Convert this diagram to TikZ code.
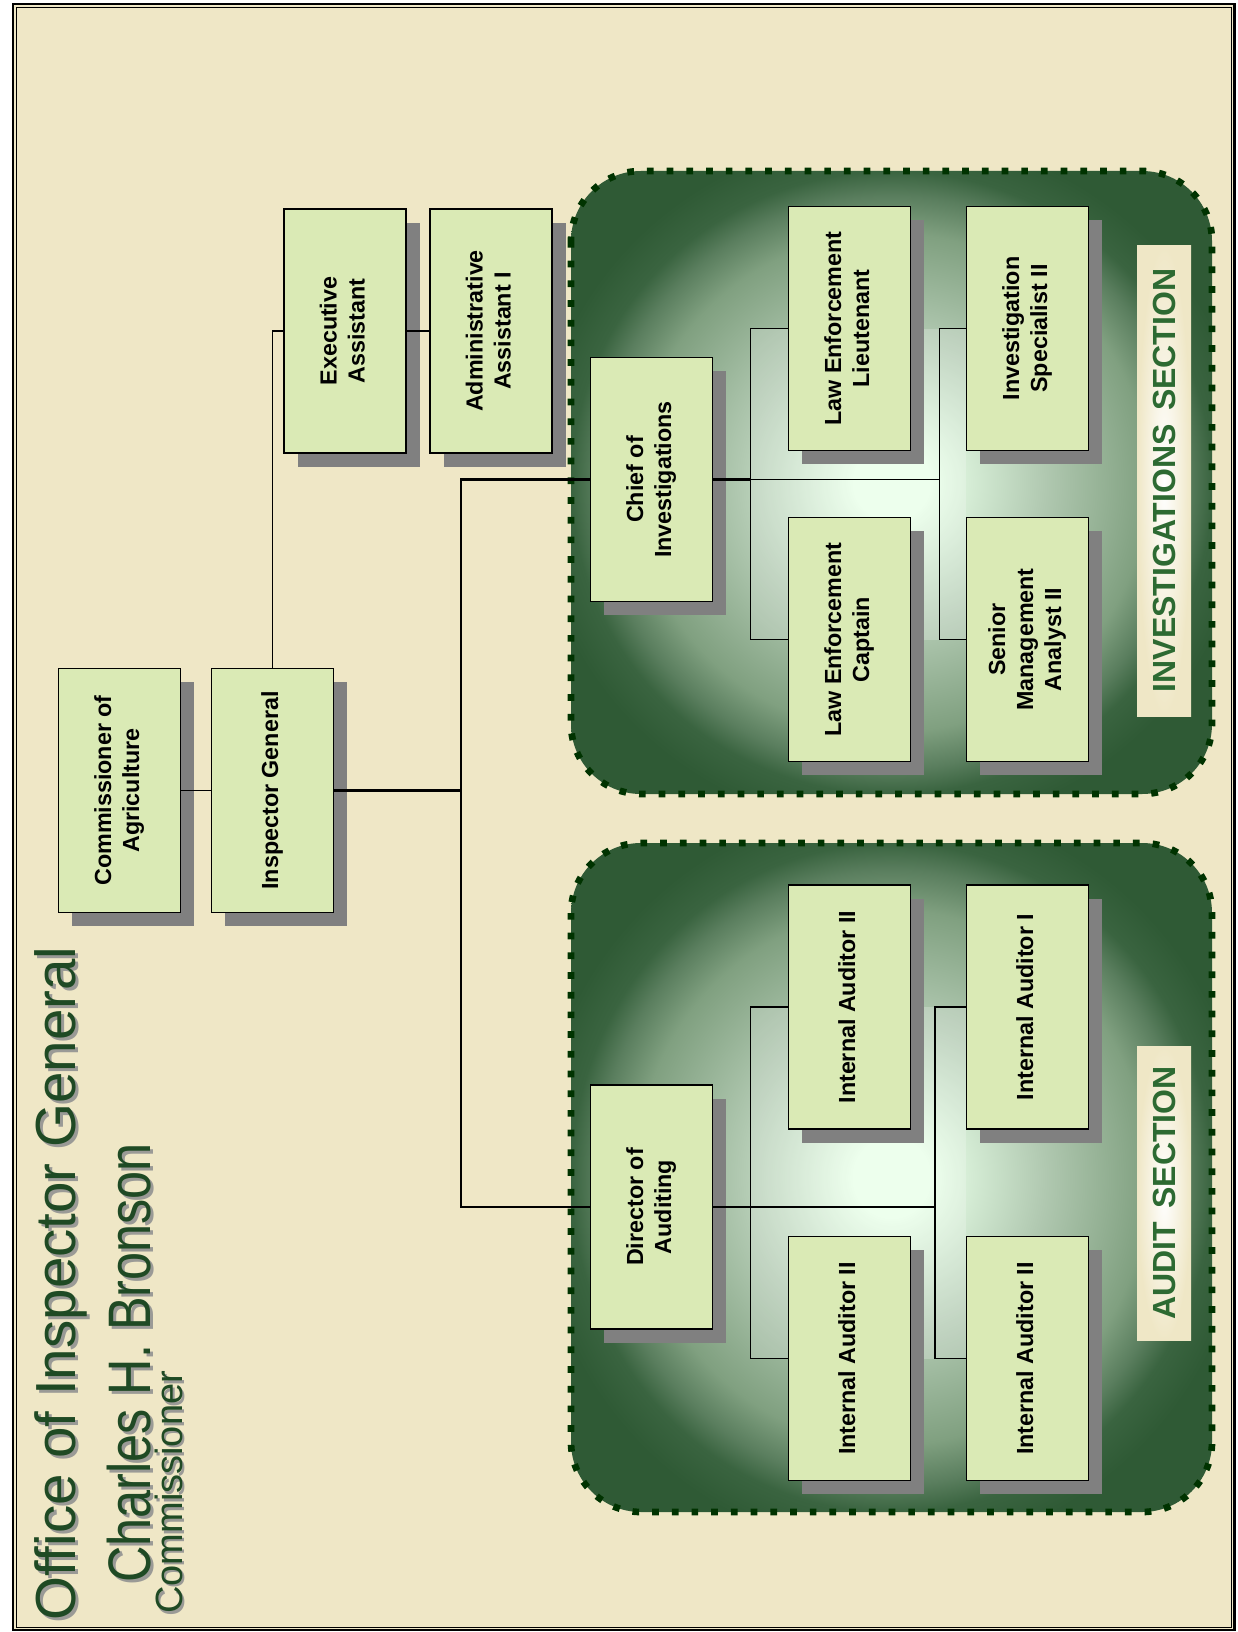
\documentclass[tikz,border=0pt]{standalone}
\usepackage{fontspec}
\setmainfont{Liberation Sans}
\usetikzlibrary{shadows,calc}
\definecolor{bgc}{HTML}{EFE7C6}
\definecolor{boxc}{HTML}{DAEAB5}
\definecolor{shc}{HTML}{808080}
\definecolor{dashc}{HTML}{003300}
\definecolor{edgec}{HTML}{2F5A35}
\definecolor{glowc}{HTML}{E8FFE8}
\definecolor{cA}{HTML}{B0C8B0}
\definecolor{cB}{HTML}{80A080}
\definecolor{cC}{HTML}{5A7E5E}
\definecolor{cD}{HTML}{3A6440}
\definecolor{labtc}{HTML}{2D6A32}
\definecolor{titlec}{HTML}{1F4A24}
\definecolor{tshc}{HTML}{9A9A96}
\pgfdeclareradialshading{secshade}{\pgfpoint{0bp}{0bp}}{color(0bp)=(glowc); color(3bp)=(glowc); color(12bp)=(cA); color(20bp)=(cB); color(23bp)=(cC); color(25bp)=(cD); color(28bp)=(edgec); color(50bp)=(edgec)}
\newcommand{\vtxt}[1]{\rotatebox{90}{\begin{tabular}{@{}c@{}}#1\end{tabular}}}
\tikzset{
  orgbox/.style={draw=black, line width=1.3pt, fill=boxc, minimum width=122pt, minimum height=244pt, inner sep=0pt,
    general shadow={fill=shc, shadow xshift=13.5pt, shadow yshift=-13.5pt},
    font=\bfseries\fontsize{23.3}{28}\selectfont},
  conn/.style={draw=black, line width=1.3pt},
  trunk/.style={draw=black, line width=2.2pt},
  secborder/.style={draw=dashc, line width=6.7pt, dash pattern=on 6.7pt off 13pt, rounded corners=70pt},
  secfill/.style={shading=secshade, rounded corners=70pt},
  seclabel/.style={shade, inner color=white, outer color=bgc, inner sep=0pt, minimum width=54pt,
    text=labtc, font=\bfseries\fontsize{32}{36}\selectfont},
  ttl/.style={rotate=90, anchor=base west, inner sep=0pt, text=titlec},
  ttlsh/.style={rotate=90, anchor=base west, inner sep=0pt, text=tshc},
  glow/.style={fill=white, opacity=0.22}
}
\begin{document}
\begin{tikzpicture}[x=1pt,y=-1pt]
\useasboundingbox (0,0) rectangle (1237,1632);
\fill[white] (0,0) rectangle (1237,1632);
% frame
\fill[bgc] (12.8,4) rectangle (1234.3,1629.7);
\draw[black, line width=2.4pt] (12.8,4) rectangle (1234.3,1629.7);
\draw[black, line width=1pt] (16.2,7.6) rectangle (1231.3,1627.2);

% sections
\shade[secfill] (571,171) rectangle (1212,794);
\shade[secfill] (571,843) rectangle (1212,1512);
\draw[secborder] (571,171) rectangle (1212,794);
\draw[secborder] (571,843) rectangle (1212,1512);

% light group areas
\fill[glow] (750.7,328.5) rectangle (966,639.5);
\fill[glow] (750.7,1007) rectangle (966,1358.5);

% nodes
\node[orgbox] (comm) at (119.5,790.5) {\vtxt{Commissioner of\\Agriculture}};
\node[orgbox] (ig) at (272.5,790.5) {\vtxt{Inspector General}};
\node[orgbox] (exec) at (345,331) {\vtxt{Executive\\Assistant}};
\node[orgbox] (admin) at (491,331) {\vtxt{Administrative\\Assistant I}};
\node[orgbox] (chief) at (651.5,479.5) {\vtxt{Chief of\\Investigations}};
\node[orgbox] (lelt) at (849.5,328.5) {\vtxt{Law Enforcement\\Lieutenant}};
\node[orgbox] (lecap) at (849.5,639.5) {\vtxt{Law Enforcement\\Captain}};
\node[orgbox] (invsp) at (1027.5,328.5) {\vtxt{Investigation\\Specialist II}};
\node[orgbox] (sma) at (1027.5,639.5) {\vtxt{Senior\\Management\\Analyst II}};
\node[orgbox] (dir) at (651.5,1207) {\vtxt{Director of\\Auditing}};
\node[orgbox] (iaa) at (849.5,1007) {\vtxt{Internal Auditor II}};
\node[orgbox] (iab) at (1027.5,1007) {\vtxt{Internal Auditor I}};
\node[orgbox] (iac) at (849.5,1358.5) {\vtxt{Internal Auditor II}};
\node[orgbox] (iad) at (1027.5,1358.5) {\vtxt{Internal Auditor II}};

% junction coordinates
\coordinate (tr) at (461,790.5);
\coordinate (ibl) at (750.7,479.5);
\coordinate (ibr) at (939.3,479.5);
\coordinate (abl) at (750.7,1207);
\coordinate (abr) at (935,1207);

% connectors
\draw[conn] (comm.east) -- (ig.west);
\draw[conn] (ig.north) |- (exec.west);
\draw[conn] (exec.east) -- (admin.west);
\draw[trunk] (ig.east) -- (tr);
\draw[trunk] (chief.west) -| (tr);
\draw[trunk] (dir.west) -| (tr);
\draw[trunk] (chief.east) -- (ibl);
\draw[conn] (ibl) -- (ibr);
\draw[conn] (lelt.west) -| (ibl) |- (lecap.west);
\draw[conn] (invsp.west) -| (ibr) |- (sma.west);
\draw[trunk] (dir.east) -- (abl);
\draw[conn] (abl) -- (abr);
\draw[conn] (iaa.west) -| (abl) |- (iac.west);
\draw[conn] (iab.west) -| (abr) |- (iad.west);

% section labels
\node[seclabel, minimum height=471pt] (invlab) at (1164,480.5) {\rotatebox{90}{INVESTIGATIONS\hspace{0.42em}SECTION}};
\node[seclabel, minimum height=294pt] (audlab) at (1164,1193) {\rotatebox{90}{AUDIT\hspace{0.42em}SECTION}};

% title
\node[ttlsh, font=\fontsize{56.5}{60}\selectfont] (t1s) at (78.6,1624) {Office of Inspector General};
\node[ttl, font=\fontsize{56.5}{60}\selectfont] (t1) at (75.6,1621) {Office of Inspector General};
\node[ttlsh, font=\fontsize{60}{64}\selectfont] (t2s) at (153,1586) {\scalebox{0.84}[1]{Charles H. Bronson}};
\node[ttl, font=\fontsize{60}{64}\selectfont] (t2) at (150,1583) {\scalebox{0.84}[1]{Charles H. Bronson}};
\node[ttlsh, font=\fontsize{38}{42}\selectfont] (t3s) at (184.5,1616.5) {Commissioner};
\node[ttl, font=\fontsize{38}{42}\selectfont] (t3) at (182,1614) {Commissioner};
\end{tikzpicture}
\end{document}
